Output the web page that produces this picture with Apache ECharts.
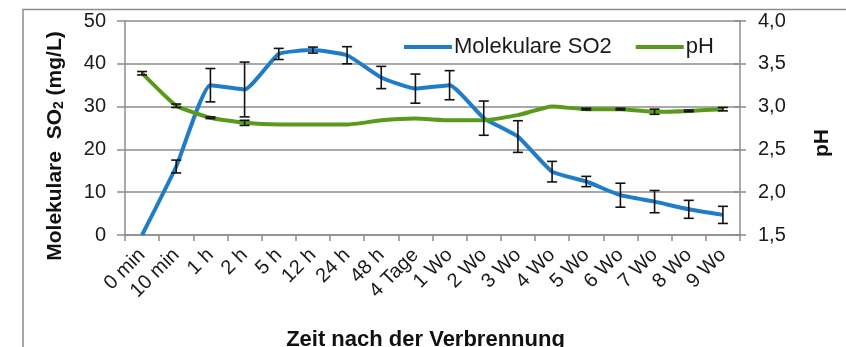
<!DOCTYPE html>
<html>
<head>
<meta charset="utf-8">
<script src="https://cdn.jsdelivr.net/npm/echarts@6/dist/echarts.min.js"></script>
<style>
  html, body { margin: 0; padding: 0; background: #fff; }
  #chart { width: 846px; height: 347px; }
</style>
</head>
<body>
<div id="chart"></div>
<script>
// Zeitpunkte nach der Verbrennung
const categories = ['0 min', '10 min', '1 h', '2 h', '5 h', '12 h', '24 h', '48 h', '4 Tage',
  '1 Wo', '2 Wo', '3 Wo', '4 Wo', '5 Wo', '6 Wo', '7 Wo', '8 Wo', '9 Wo'];

// Molekulare SO2 (mg/L) mit Standardabweichung
const so2Values = [0, 16, 35, 34, 42.3, 43.2, 42, 36.8, 34.2, 35, 27.3, 23, 14.8, 12.5, 9.3, 7.8, 6, 4.7];
const so2Errors = [0, 1.5, 3.9, 6.4, 1.3, 0.7, 2, 2.6, 3.4, 3.4, 4, 3.7, 2.4, 1.2, 2.8, 2.6, 2.1, 2];

// pH-Wert mit Standardabweichung
const phValues = [3.39, 3.01, 2.87, 2.81, 2.79, 2.79, 2.79, 2.84, 2.86, 2.84, 2.84, 2.9, 3.0, 2.97, 2.97, 2.94, 2.95, 2.97];
const phErrors = [0.02, 0.02, 0.01, 0.03, 0, 0, 0, 0, 0, 0, 0, 0, 0, 0.01, 0.01, 0.03, 0.01, 0.02];

// Achsenbereiche
const so2Axis = { min: 0, max: 50, interval: 10 };
const phAxis = { min: 1.5, max: 4.0, interval: 0.5 };

const BLUE = '#1f7cc9';
const GREEN = '#5a9a1a';
const AXIS_GREY = '#8c8c8c';
const FONT = 'Liberation Sans, Arial, sans-serif';

function errorData(values, errors) {
  return values.map((v, i) => [i, v - errors[i], v + errors[i]]);
}

function renderErrorBar(params, api) {
  const x = api.value(0);
  const lo = api.coord([x, api.value(1)]);
  const hi = api.coord([x, api.value(2)]);
  if (Math.abs(hi[1] - lo[1]) < 0.5) return null;
  const cap = 5;
  const style = { stroke: '#111', lineWidth: 1.6 };
  return {
    type: 'group',
    children: [
      { type: 'line', shape: { x1: lo[0], y1: lo[1], x2: hi[0], y2: hi[1] }, style },
      { type: 'line', shape: { x1: lo[0] - cap, y1: lo[1], x2: lo[0] + cap, y2: lo[1] }, style },
      { type: 'line', shape: { x1: hi[0] - cap, y1: hi[1], x2: hi[0] + cap, y2: hi[1] }, style }
    ]
  };
}

const chart = echarts.init(document.getElementById('chart'), null, { renderer: 'canvas' });

const axisLabelFont = { fontFamily: FONT, color: '#1a1a1a' };

chart.setOption({
  animation: false,
  backgroundColor: '#fff',
  textStyle: { fontFamily: FONT },
  graphic: [
    {
      type: 'rect',
      shape: { x: 23, y: 9.5, width: 900, height: 400 },
      style: { fill: 'none', stroke: AXIS_GREY, lineWidth: 1.5 },
      silent: true, z: -10
    },
    {
      type: 'text',
      x: 55, y: 146,
      rotation: Math.PI / 2,
      style: {
        text: '{b|Molekulare  SO}{s|2}{b| (mg/L)}',
        align: 'center', verticalAlign: 'middle',
        rich: {
          b: { fontSize: 21, fontWeight: 'bold', fill: '#111', fontFamily: FONT },
          s: { fontSize: 14, fontWeight: 'bold', fill: '#111', verticalAlign: 'bottom', padding: [9, 0, 0, 0], fontFamily: FONT }
        }
      }
    },
    {
      type: 'text',
      x: 822, y: 143,
      rotation: Math.PI / 2,
      style: {
        text: 'pH',
        align: 'center', verticalAlign: 'middle',
        fontSize: 21, fontWeight: 'bold', fill: '#111', fontFamily: FONT
      }
    }
  ],
  grid: { left: 125, right: 106, top: 21, bottom: 112, containLabel: false, outerBoundsMode: 'none' },
  legend: {
    left: 399, top: 31,
    itemWidth: 48, itemHeight: 4, itemGap: 24,
    icon: 'rect',
    textStyle: { fontSize: 22, color: '#1a1a1a', padding: [0, 0, 0, -3] },
    data: ['Molekulare SO2', 'pH']
  },
  xAxis: {
    type: 'category',
    data: categories,
    boundaryGap: true,
    name: 'Zeit nach der Verbrennung',
    nameLocation: 'middle',
    nameGap: 94,
    nameTextStyle: { fontSize: 22, fontWeight: 'bold', color: '#111', padding: [0, 0, 0, -14] },
    axisLine: { lineStyle: { color: AXIS_GREY, width: 1.5 } },
    axisTick: { show: true, alignWithLabel: false, length: 6, lineStyle: { color: AXIS_GREY, width: 1.5 } },
    axisLabel: Object.assign({ rotate: 45, fontSize: 20, margin: 17, interval: 0 }, axisLabelFont),
    splitLine: { show: false }
  },
  yAxis: [
    {
      type: 'value',
      min: so2Axis.min, max: so2Axis.max, interval: so2Axis.interval,
      position: 'left',
      axisLine: { show: true, lineStyle: { color: AXIS_GREY, width: 1.5 } },
      axisTick: { show: true, length: 8, lineStyle: { color: AXIS_GREY, width: 1.5 } },
      axisLabel: Object.assign({ fontSize: 20, margin: 19 }, axisLabelFont),
      splitLine: { show: true, lineStyle: { color: AXIS_GREY, width: 1.5 } }
    },
    {
      type: 'value',
      min: phAxis.min, max: phAxis.max, interval: phAxis.interval,
      position: 'right',
      axisLine: { show: true, lineStyle: { color: AXIS_GREY, width: 1.5 } },
      axisTick: { show: true, inside: false, length: 6, lineStyle: { color: AXIS_GREY, width: 1.5 } },
      axisLabel: Object.assign({ fontSize: 20, margin: 18, formatter: v => v.toFixed(1).replace('.', ',') }, axisLabelFont),
      splitLine: { show: false }
    },
    {
      // inner half of the crossing ticks on the pH axis
      type: 'value',
      min: phAxis.min, max: phAxis.max, interval: phAxis.interval,
      position: 'right',
      axisLine: { show: false },
      axisTick: { show: true, inside: true, length: 6, lineStyle: { color: AXIS_GREY, width: 1.5 } },
      axisLabel: { show: false },
      splitLine: { show: false }
    }
  ],
  series: [
    {
      name: 'Molekulare SO2',
      type: 'line',
      yAxisIndex: 0,
      data: so2Values,
      smooth: 0.15,
      showSymbol: false,
      symbol: 'none',
      lineStyle: { color: BLUE, width: 4 },
      itemStyle: { color: BLUE },
      z: 3
    },
    {
      name: 'pH',
      type: 'line',
      yAxisIndex: 1,
      data: phValues,
      smooth: 0.15,
      showSymbol: false,
      symbol: 'none',
      lineStyle: { color: GREEN, width: 4 },
      itemStyle: { color: GREEN },
      z: 4
    },
    {
      type: 'custom',
      name: 'SO2 Fehler',
      yAxisIndex: 0,
      data: errorData(so2Values, so2Errors),
      renderItem: renderErrorBar,
      encode: { x: 0, y: [1, 2] },
      z: 5,
      silent: true
    },
    {
      type: 'custom',
      name: 'pH Fehler',
      yAxisIndex: 1,
      data: errorData(phValues, phErrors),
      renderItem: renderErrorBar,
      encode: { x: 0, y: [1, 2] },
      z: 5,
      silent: true
    }
  ]
});
</script>
</body>
</html>
